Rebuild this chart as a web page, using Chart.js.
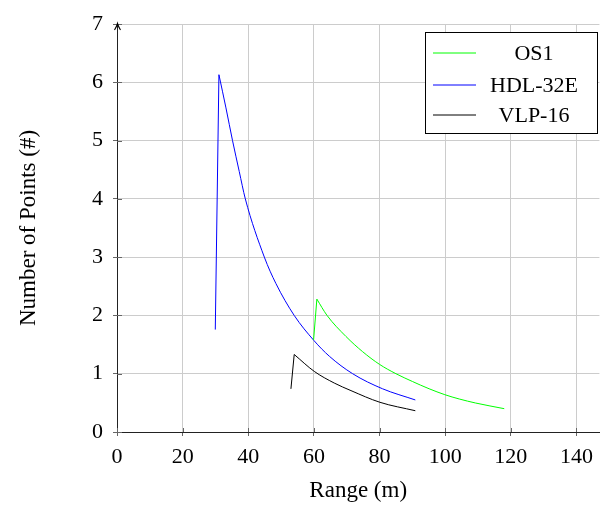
<!DOCTYPE html>
<html><head><meta charset="utf-8">
<script src="https://cdn.jsdelivr.net/npm/chart.js@4"></script>
<style>html,body{margin:0;padding:0;background:#fff}#wrap{width:601px;height:505px}</style>
</head><body><div id="wrap"><canvas id="c" width="601" height="505"></canvas></div>
<script>
const seriesNames = ['OS1', 'HDL-32E', 'VLP-16'];
const seriesColors = ['#00ff00', '#0000ff', '#000000'];

const os1X = [59.9, 60.9, 64.0, 69.75, 74.8, 80.0, 85.0, 90.0, 95.1, 99.9, 104.3, 109.3, 118.0];
const os1Y = [1.58, 2.28, 2.00, 1.64, 1.38, 1.16, 1.00, 0.867, 0.742, 0.64, 0.566, 0.497, 0.40];

const hdlX = [29.95, 31.06, 33.2, 35.2, 37.25, 39.1, 44.9, 48.4, 54.0, 60.0, 64.7, 71.8, 80.9, 90.9];
const hdlY = [1.757, 6.13, 5.56, 5.00, 4.47, 4.00, 3.00, 2.55, 2.00, 1.57, 1.30, 1.00, 0.742, 0.55];

const vlpX = [53.0, 54.0, 60.1, 66.2, 71.3, 80.1, 90.9];
const vlpY = [0.74, 1.33, 1.04, 0.84, 0.71, 0.51, 0.365];

const xTicks = [0, 20, 40, 60, 80, 100, 120, 140];
const yTicks = [0, 1, 2, 3, 4, 5, 6, 7];
const xTitle = 'Range (m)';
const yTitle = 'Number of Points (#)';

const FONT = "'Liberation Serif', 'Times New Roman', serif";
const toPts = (xs, ys) => xs.map((x, i) => ({x: x, y: ys[i]}));
const seriesData = [toPts(os1X, os1Y), toPts(hdlX, hdlY), toPts(vlpX, vlpY)];

// each series: the steep rise (straight) and the smooth decay after the peak
const datasets = [];
seriesNames.forEach((name, i) => {
  const pts = seriesData[i];
  datasets.push({
    label: name, data: pts.slice(0, 2), showLine: true,
    borderColor: seriesColors[i], backgroundColor: seriesColors[i],
    borderWidth: 1, pointRadius: 0, tension: 0
  });
  datasets.push({
    label: name + ' decay', data: pts.slice(1), showLine: true,
    borderColor: seriesColors[i], backgroundColor: seriesColors[i],
    borderWidth: 1, pointRadius: 0, cubicInterpolationMode: 'monotone'
  });
});

const legendBox = {
  id: 'legendBox',
  afterDraw(chart) {
    const ctx = chart.ctx;
    ctx.save();
    const bx = 425.5, by = 32.5, bw = 172, bh = 101;
    ctx.fillStyle = '#fff';
    ctx.fillRect(bx, by, bw, bh);
    ctx.strokeStyle = '#000';
    ctx.lineWidth = 1;
    ctx.strokeRect(bx, by, bw, bh);
    const rows = [53, 85, 115];
    ctx.font = '22px ' + FONT;
    ctx.textAlign = 'center';
    ctx.textBaseline = 'middle';
    seriesNames.forEach((name, i) => {
      const y = rows[i];
      ctx.strokeStyle = seriesColors[i];
      ctx.lineWidth = 1;
      ctx.beginPath();
      ctx.moveTo(433, y);
      ctx.lineTo(476, y);
      ctx.stroke();
      ctx.fillStyle = '#000';
      ctx.fillText(name, 534, y + 1.5);
    });
    ctx.restore();
  }
};

const axisDecor = {
  id: 'axisDecor',
  afterDatasetsDraw(chart) {
    const ctx = chart.ctx;
    const a = chart.chartArea;
    const xs = chart.scales.x, ys = chart.scales.y;
    ctx.save();
    ctx.strokeStyle = '#666';
    ctx.lineWidth = 1;
    ctx.beginPath();
    xTicks.forEach(v => {
      const px = Math.round(xs.getPixelForValue(v)) + 0.5;
      ctx.moveTo(px, a.bottom);
      ctx.lineTo(px, a.bottom - 4);
    });
    yTicks.forEach(v => {
      const py = Math.round(ys.getPixelForValue(v)) + 0.5;
      ctx.moveTo(a.left, py);
      ctx.lineTo(a.left + 5, py);
    });
    ctx.stroke();
    const lx = a.left + 0.5;
    ctx.strokeStyle = '#000';
    ctx.lineWidth = 1.1;
    ctx.beginPath();
    ctx.moveTo(lx - 3, a.top + 6);
    ctx.quadraticCurveTo(lx - 0.8, a.top + 2.5, lx, a.top - 0.5);
    ctx.quadraticCurveTo(lx + 0.8, a.top + 2.5, lx + 3, a.top + 6);
    ctx.stroke();
    ctx.restore();
  }
};

new Chart(document.getElementById('c'), {
  type: 'scatter',
  data: {datasets: datasets},
  options: {
    responsive: false,
    animation: false,
    devicePixelRatio: 1,
    layout: {padding: {top: 24, right: 1, left: 0, bottom: 0}},
    plugins: {legend: {display: false}, tooltip: {enabled: false}},
    scales: {
      x: {
        type: 'linear',
        min: 0, max: 147,
        afterBuildTicks: s => { s.ticks = xTicks.map(v => ({value: v})); },
        afterFit: s => { s.height = 73; },
        ticks: {color: '#000', font: {family: FONT, size: 22}, padding: 8, maxRotation: 0, autoSkip: false},
        grid: {color: '#cccccc', lineWidth: 1, drawTicks: true, tickLength: 4, tickColor: '#666'},
        border: {display: true, color: '#222', width: 1},
        title: {display: true, text: xTitle, color: '#000', font: {family: FONT, size: 23}, padding: {top: 3, bottom: 0}}
      },
      y: {
        type: 'linear',
        min: 0, max: 7,
        afterBuildTicks: s => { s.ticks = yTicks.map(v => ({value: v})); },
        afterFit: s => { s.width = 117; },
        ticks: {color: '#000', font: {family: FONT, size: 22}, padding: 10, autoSkip: false},
        grid: {color: '#cccccc', lineWidth: 1, drawTicks: true, tickLength: 4, tickColor: '#666'},
        border: {display: true, color: '#222', width: 1},
        title: {display: true, text: yTitle, color: '#000', font: {family: FONT, size: 23}, padding: {top: 15, bottom: 0}}
      }
    }
  },
  plugins: [axisDecor, legendBox]
});
</script>
</body></html>
